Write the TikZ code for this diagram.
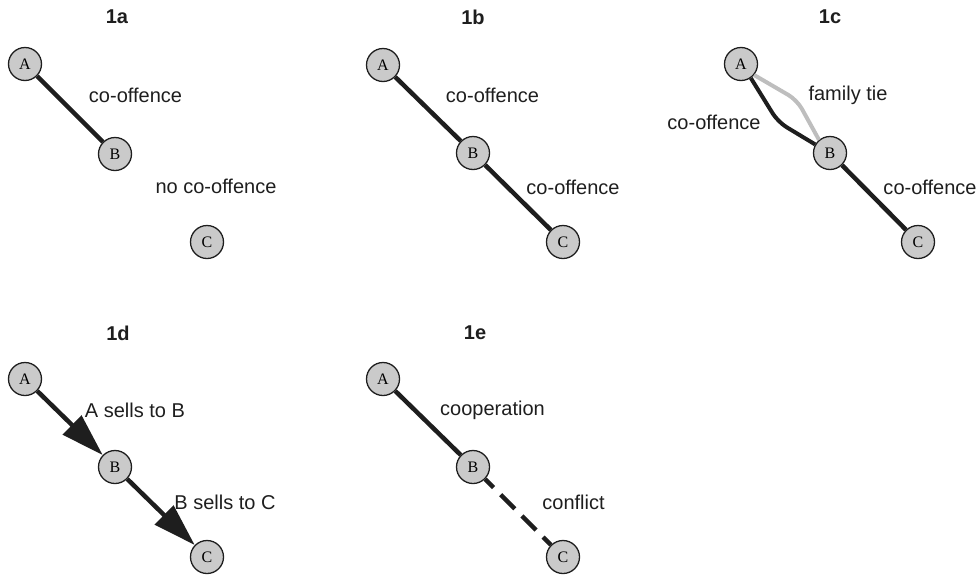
\documentclass[tikz,border=0pt]{standalone}
\usepackage{fontspec}
\setmainfont{Liberation Sans}
\newfontfamily\nodeserif{Liberation Serif}
\usetikzlibrary{arrows.meta}
\definecolor{nodegray}{RGB}{202,202,202}
\definecolor{tiegray}{RGB}{190,190,190}
\definecolor{inkblack}{RGB}{30,30,30}
\tikzset{
  actor/.style={circle, draw=inkblack, line width=1.3pt, fill=nodegray,
    minimum size=33pt, inner sep=0pt, font=\nodeserif\fontsize{16}{16}\selectfont},
  tie/.style={draw=inkblack, line width=4.5pt},
  famtie/.style={draw=tiegray, line width=4pt, rounded corners=10pt},
  cotie/.style={draw=inkblack, line width=4pt, rounded corners=10pt},
  sells/.style={draw=inkblack, line width=4.5pt, -{Triangle[length=43pt,width=26pt]}},
  conflictline/.style={draw=inkblack, line width=4.5pt, dash pattern=on 20pt off 10pt, dash phase=8pt},
  lbl/.style={font=\fontsize{20}{24}\selectfont, text=inkblack, inner sep=0pt},
  ttl/.style={font=\bfseries\fontsize{20}{24}\selectfont, text=inkblack, inner sep=0pt}
}
\begin{document}
\begin{tikzpicture}[x=1pt,y=-1pt]
\useasboundingbox (0,0) rectangle (979,576);

% ---- 1a
\node[ttl] (t1a) at (117,17) {1a};
\node[actor] (aA) at (25,64) {A};
\node[actor] (aB) at (115,154) {B};
\node[actor] (aC) at (207,242) {C};
\draw[tie] (aA) -- (aB);
\node[lbl] (aL1) at (135.5,95) {co-offence};
\node[lbl] (aL2) at (216,186) {no co-offence};

% ---- 1b
\node[ttl] (t1b) at (473,17) {1b};
\node[actor] (bA) at (383,65) {A};
\node[actor] (bB) at (473,153) {B};
\node[actor] (bC) at (563,242) {C};
\draw[tie] (bA) -- (bB);
\draw[tie] (bB) -- (bC);
\node[lbl] (bL1) at (492.5,95) {co-offence};
\node[lbl] (bL2) at (573,187) {co-offence};

% ---- 1c
\node[ttl] (t1c) at (830,17) {1c};
\node[actor] (cA) at (741,64) {A};
\node[actor] (cB) at (830,153) {B};
\node[actor] (cC) at (918,242) {C};
\coordinate (cBend1) at (778,122);
\coordinate (cBend2) at (797,100);
\draw[famtie] (cA.-40) -- (cBend2) -- (cB.130);
\draw[cotie] (cA.-55) -- (cBend1) -- (cB.150);
\draw[tie] (cB) -- (cC);
\node[lbl] (cL1) at (848,95) {family tie};
\node[lbl] (cL2) at (714,122) {co-offence};
\node[lbl] (cL3) at (930,187) {co-offence};

% ---- 1d
\node[ttl] (t1d) at (118,333) {1d};
\node[actor] (dA) at (25,379) {A};
\node[actor] (dB) at (115,467) {B};
\node[actor] (dC) at (207,557) {C};
\draw[sells] (dA) -- (dB);
\draw[sells] (dB) -- (dC);
\node[lbl] (dL1) at (135,410) {A sells to B};
\node[lbl] (dL2) at (225,502) {B sells to C};

% ---- 1e
\node[ttl] (t1e) at (475,333) {1e};
\node[actor] (eA) at (383,379) {A};
\node[actor] (eB) at (473,467) {B};
\node[actor] (eC) at (563,557) {C};
\draw[tie] (eA) -- (eB);
\draw[conflictline] (eB) -- (eC);
\node[lbl] (eL1) at (492.5,410) {cooperation};
\node[lbl] (eL2) at (573.5,502) {conflict};
\end{tikzpicture}
\end{document}
